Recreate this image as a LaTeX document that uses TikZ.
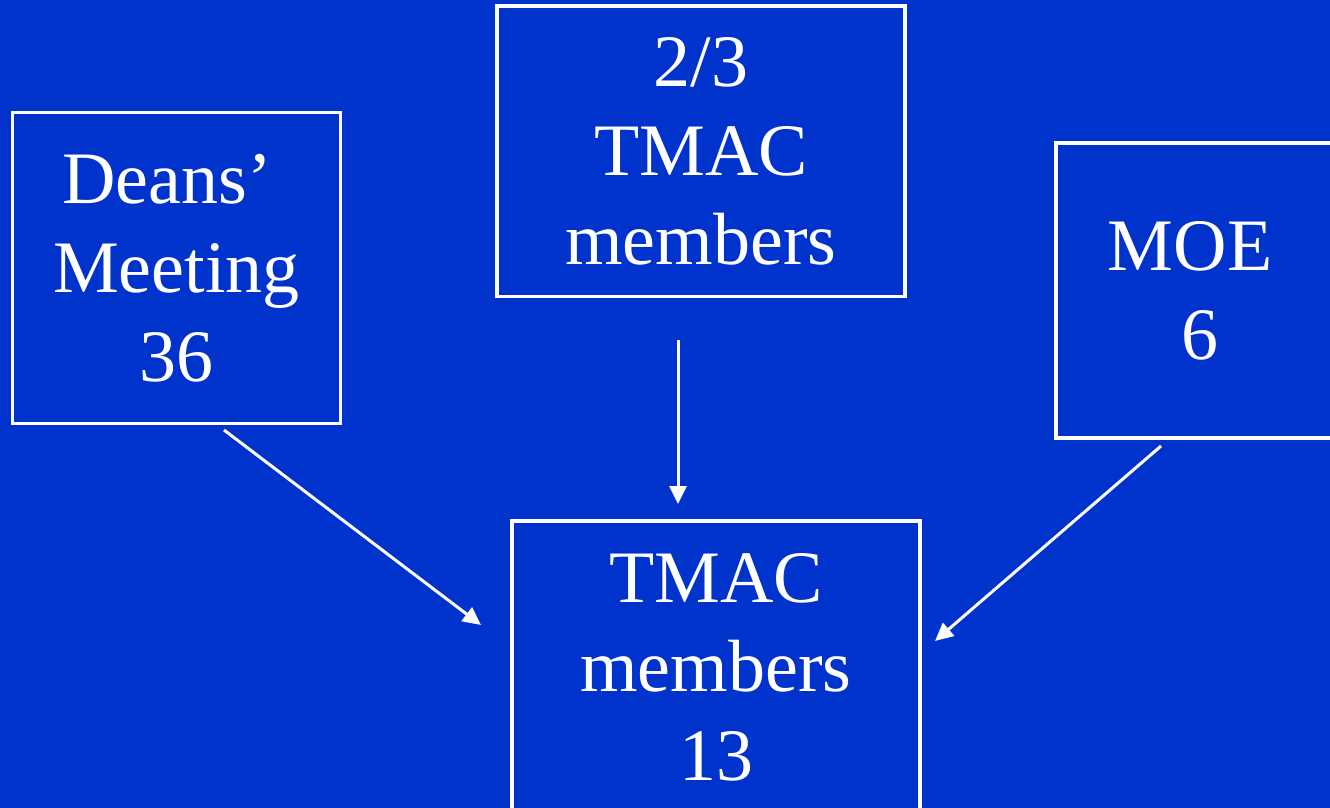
\documentclass[tikz,border=0pt]{standalone}
\usepackage{fontspec}
\setmainfont{Liberation Serif}
\usetikzlibrary{arrows.meta}
\definecolor{bg}{RGB}{0,51,204}
\begin{document}
\begin{tikzpicture}[x=1pt,y=-1pt,
  box/.style={draw=white, line width=3.5pt, inner sep=0pt, align=center, text=white,
              font=\fontsize{74}{89}\selectfont},
  conn/.style={draw=white, line width=3pt, -{Triangle[length=18pt,width=17pt]}}]
\path[fill=bg, use as bounding box] (0,0) rectangle (1330,808);
\clip (0,0) rectangle (1330,808);
\node[box, minimum width=328pt, minimum height=311pt] (deans) at (176.5,268)
  {Deans’\hspace*{19pt}\\Meeting\\36};
\node[box, minimum width=408pt, minimum height=290.5pt] (twothirds) at (701,151.25)
  {2/3\\TMAC\\members};
\node[box, minimum width=288pt, minimum height=295pt] (moe) at (1200,290.5)
  {MOE\hspace*{20pt}\\6};
\node[box, minimum width=408pt, minimum height=292pt] (tmac) at (716,667)
  {TMAC\\members\\13};
\coordinate (d1) at (224,430);
\coordinate (d2) at (481,625);
\coordinate (t1) at (678,340);
\coordinate (t2) at (678,504);
\coordinate (m1) at (1161,446);
\coordinate (m2) at (935,641);
\draw[conn] (d1) -- (d2);
\draw[conn] (t1) -- (t2);
\draw[conn] (m1) -- (m2);
\end{tikzpicture}
\end{document}
